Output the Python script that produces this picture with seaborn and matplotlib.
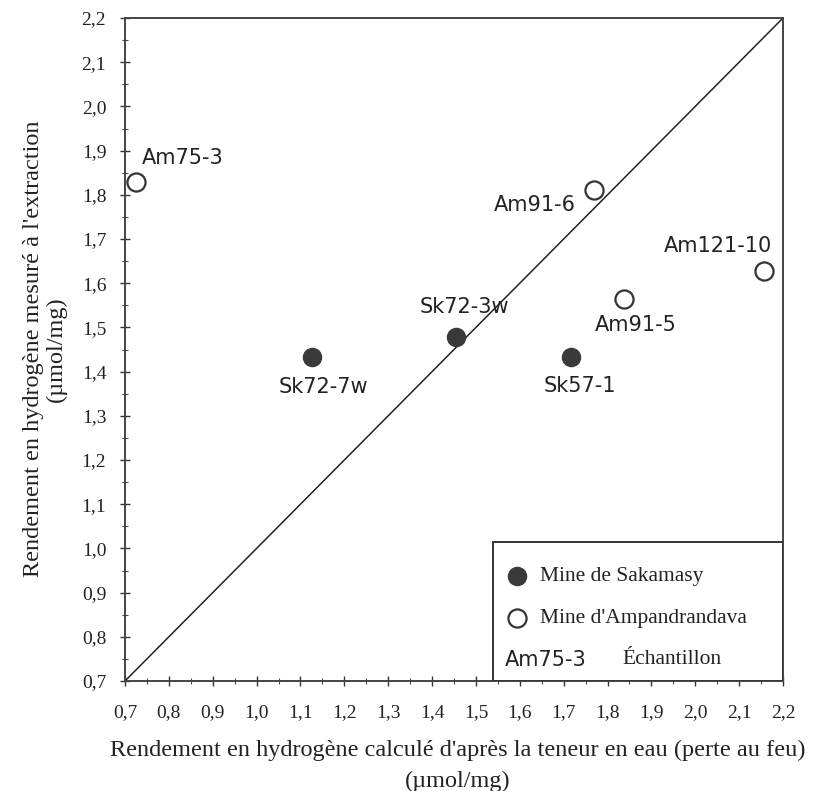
import matplotlib
matplotlib.use("Agg")
import matplotlib.pyplot as plt
from matplotlib.patches import Rectangle
from matplotlib.ticker import MultipleLocator, FuncFormatter
import seaborn as sns
import pandas as pd

# ---- data ----
sak_names = ["Sk72-7w", "Sk72-3w", "Sk57-1"]
sak_x = [1.126, 1.455, 1.716]
sak_y = [1.433, 1.478, 1.434]

amp_names = ["Am75-3", "Am91-6", "Am91-5", "Am121-10"]
amp_x = [0.725, 1.769, 1.838, 2.157]
amp_y = [1.829, 1.810, 1.565, 1.627]

axis_range = [0.7, 2.2]
legend_labels = ["Mine de Sakamasy", "Mine d'Ampandrandava"]
legend_sample = ["Am75-3", "Échantillon"]
xlabel_lines = ["Rendement en hydrogène calculé d'après la teneur en eau (perte au feu)", "(µmol/mg)"]
ylabel_lines = ["Rendement en hydrogène mesuré à l'extraction", "(µmol/mg)"]

sak_df = pd.DataFrame({"x": sak_x, "y": sak_y, "name": sak_names})
amp_df = pd.DataFrame({"x": amp_x, "y": amp_y, "name": amp_names})

# label offsets (pixels: dx, dy upward positive), alignment
sak_off = {"Sk72-7w": (12, -30, "center"), "Sk72-3w": (8, 30, "center"), "Sk57-1": (9, -29, "center")}
amp_off = {"Am75-3": (6, 24, "left"), "Am91-6": (-18, -15, "right"),
           "Am91-5": (12, -26, "center"), "Am121-10": (8, 25, "right")}

sns.set_style("white")
plt.rcParams["font.family"] = ["Liberation Serif", "DejaVu Serif"]

fig = plt.figure(figsize=(8.13, 7.91), dpi=100)
ax = fig.add_axes([0.15375, 0.13906, 0.80935, 0.83818])

DARK = "#3a3a3a"
EDGE = "#333333"
MS = 170

# diagonal 1:1 line
sns.lineplot(x=axis_range, y=axis_range, ax=ax, color="#222222", linewidth=1.1)

sns.scatterplot(data=sak_df, x="x", y="y", ax=ax, color=DARK, edgecolor=DARK,
                s=MS, linewidth=1.0, legend=False, zorder=3)
sns.scatterplot(data=amp_df, x="x", y="y", ax=ax, color="white", edgecolor=EDGE,
                s=MS, linewidth=1.6, legend=False, zorder=3)

lab_font = dict(family="DejaVu Sans", fontsize=15, color="#222222")
px2pt = 72 / 100
for df, offs in ((sak_df, sak_off), (amp_df, amp_off)):
    for _, r in df.iterrows():
        dx, dy, ha = offs[r["name"]]
        ax.annotate(r["name"], (r["x"], r["y"]), xytext=(dx * px2pt, dy * px2pt),
                    textcoords="offset points", ha=ha, va="center", **lab_font)

ax.set_xlim(axis_range)
ax.set_ylim(axis_range)

fmt = FuncFormatter(lambda v, p: f"{v:.1f}".replace(".", ","))
for axis in (ax.xaxis, ax.yaxis):
    axis.set_major_locator(MultipleLocator(0.1))
    axis.set_minor_locator(MultipleLocator(0.05))
    axis.set_major_formatter(fmt)

ax.tick_params(which="major", direction="inout", length=7, width=1.0, color="#333333",
               labelsize=14, labelcolor="#222222")
ax.tick_params(which="minor", direction="inout", length=4, width=0.8, color="#444444")
ax.tick_params(axis="x", which="major", pad=13)
ax.tick_params(axis="y", which="major", pad=10)
ax.tick_params(top=False, right=False, which="both")
ax.tick_params(left=True, bottom=True, which="both")

for s in ax.spines.values():
    s.set_color("#444444")
    s.set_linewidth(1.4)
    s.set_visible(True)

ax.set_xlabel("")
ax.set_ylabel("")

# legend box
ax.add_patch(Rectangle((0.560, 0.0), 0.44, 0.210, transform=ax.transAxes,
                       facecolor="white", edgecolor="#333333", linewidth=1.4, zorder=4))
ax.scatter([0.596], [0.158], transform=ax.transAxes, s=MS, color=DARK, edgecolor=DARK,
           linewidth=1.0, zorder=5, clip_on=False)
ax.scatter([0.596], [0.0946], transform=ax.transAxes, s=MS, color="white", edgecolor=EDGE,
           linewidth=1.6, zorder=5, clip_on=False)
ax.text(0.630, 0.158, legend_labels[0], transform=ax.transAxes, fontsize=15.5,
        va="center", ha="left", color="#222222", zorder=6)
ax.text(0.630, 0.0946, legend_labels[1], transform=ax.transAxes, fontsize=15.5,
        va="center", ha="left", color="#222222", zorder=6)
ax.text(0.5775, 0.0317, legend_sample[0], transform=ax.transAxes, va="center", ha="left",
        zorder=6, **lab_font)
ax.text(0.756, 0.0317, legend_sample[1], transform=ax.transAxes, fontsize=15.5,
        va="center", ha="left", color="#222222", zorder=6)

# axis titles
fig.text(458 / 813, 1 - 750 / 791, xlabel_lines[0], ha="center", va="center",
         fontsize=17.5, color="#222222")
fig.text(458 / 813, 1 - 781 / 791, xlabel_lines[1], ha="center", va="center",
         fontsize=17.5, color="#222222")
fig.text(34 / 813, 1 - 349 / 791, ylabel_lines[0], ha="center", va="center",
         rotation=90, fontsize=17.5, color="#222222")
fig.text(56 / 813, 1 - 349 / 791, ylabel_lines[1], ha="center", va="center",
         rotation=90, fontsize=17.5, color="#222222")

fig.savefig("out.png", dpi=100)
